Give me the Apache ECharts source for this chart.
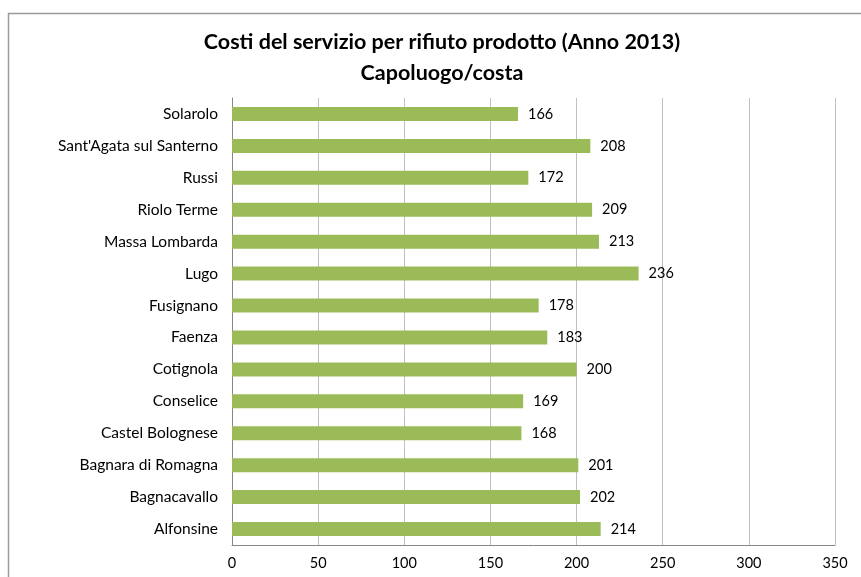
<!DOCTYPE html>
<html><head><meta charset="utf-8">
<script src="https://cdn.jsdelivr.net/npm/echarts@6/dist/echarts.min.js"></script>
<style>html,body{margin:0;padding:0;background:#fff}#c{width:861px;height:577px}</style>
</head><body><div id="c"></div>
<script>
const categories = ["Alfonsine","Bagnacavallo","Bagnara di Romagna","Castel Bolognese","Conselice","Cotignola","Faenza","Fusignano","Lugo","Massa Lombarda","Riolo Terme","Russi","Sant'Agata sul Santerno","Solarolo"];
const values = [214,202,201,168,169,200,183,178,236,213,209,172,208,166];
const xTicks = {min:0, max:350, interval:50};
const titleLines = ["Costi del servizio per rifiuto prodotto (Anno 2013)","Capoluogo/costa"];

const chart = echarts.init(document.getElementById('c'));
const font = 'Lato, "Noto Sans", sans-serif';
chart.setOption({
  animation:false,
  graphic:[{type:'rect',shape:{x:8.5,y:13.5,width:900,height:700},style:{fill:'none',stroke:'#9a9a9a',lineWidth:1.5},silent:true}],
  title:{text:titleLines.join('\n'),left:437,top:22,textAlign:'center',
    textStyle:{fontFamily:font,fontWeight:'bold',fontSize:21.5,lineHeight:31,color:'#000'}},
  grid:{left:232,right:26,top:98,bottom:32,containLabel:false},
  xAxis:{type:'value',min:xTicks.min,max:xTicks.max,interval:xTicks.interval,
    axisLine:{show:true,lineStyle:{color:'#868686'}},axisTick:{show:false},
    axisLabel:{fontFamily:font,fontSize:14.5,color:'#000',margin:11},
    splitLine:{show:true,lineStyle:{color:'#bfbfbf',width:1}}},
  yAxis:{type:'category',data:categories,
    axisLine:{show:true,lineStyle:{color:'#868686'}},axisTick:{show:false},
    axisLabel:{fontFamily:font,fontSize:15.5,color:'#000',margin:14}},
  series:[{type:'bar',data:values,barWidth:14,
    itemStyle:{color:'#9bbb59'},
    label:{show:true,position:'right',distance:10,fontFamily:font,fontSize:14.5,color:'#000'}}]
});
</script></body></html>
